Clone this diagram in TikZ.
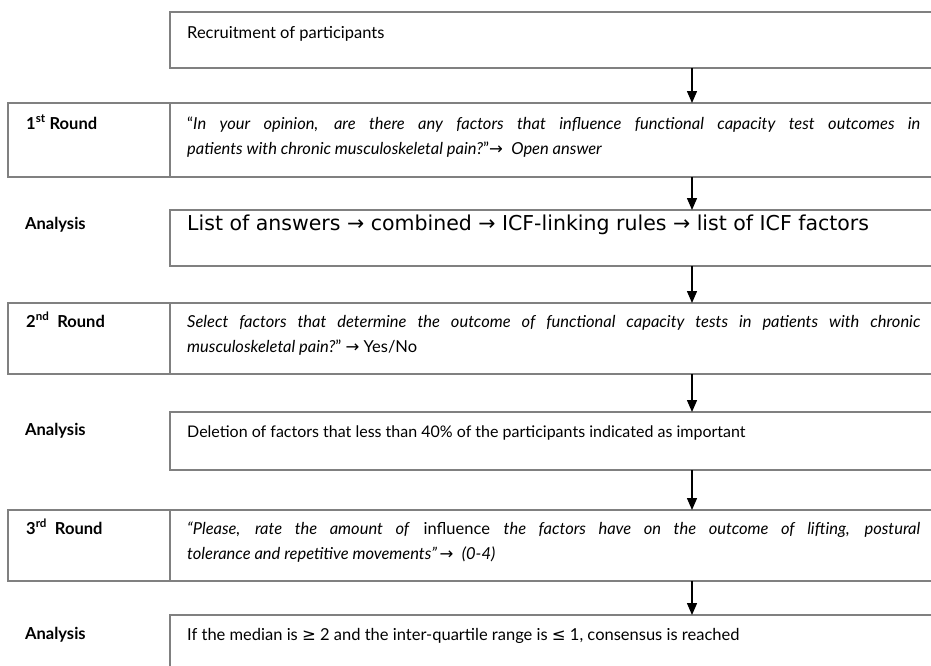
\documentclass[tikz,border=0pt]{standalone}
\usepackage{fontspec}
\setmainfont{Lato}
\newfontfamily\verd{DejaVu Sans}
\usetikzlibrary{arrows.meta}
\definecolor{boxgray}{RGB}{128,128,128}
\newcommand{\rarr}{{\verd\char"2192}}
\begin{document}
\begin{tikzpicture}[x=1pt,y=1pt,
  box/.style={draw=boxgray,line width=1.3pt,anchor=north west,inner sep=0pt,outer sep=0pt},
  lbl/.style={anchor=base west,inner sep=0pt,font=\fontsize{16.5}{24}\selectfont\bfseries},
  txt/.style={anchor=base west,inner sep=0pt,font=\fontsize{16.5}{24}\selectfont},
  para/.style={anchor=base west,inner sep=0pt,text width=733pt,align=justify,font=\fontsize{16.5}{25}\selectfont},
  flow/.style={-{Triangle[width=10pt,length=12pt]},line width=1.4pt,black}]
\clip (0,0) rectangle (931,-665);
\fill[white] (0,0) rectangle (931,-665);
\coordinate (ax) at (692,0);
% boxes
\node[box,minimum width=800pt,minimum height=56pt] (rec) at (170,-12) {};
\node[box,minimum width=162pt,minimum height=74pt] (r1l) at (8,-103) {};
\node[box,minimum width=800pt,minimum height=74pt] (r1c) at (170,-103) {};
\node[box,minimum width=800pt,minimum height=56pt] (a1) at (170,-210) {};
\node[box,minimum width=162pt,minimum height=71pt] (r2l) at (8,-303) {};
\node[box,minimum width=800pt,minimum height=71pt] (r2c) at (170,-303) {};
\node[box,minimum width=800pt,minimum height=58pt] (a2) at (170,-412) {};
\node[box,minimum width=162pt,minimum height=71pt] (r3l) at (8,-510) {};
\node[box,minimum width=800pt,minimum height=71pt] (r3c) at (170,-510) {};
\node[box,minimum width=800pt,minimum height=100pt] (a3) at (170,-615) {};
% texts
\node[txt] (rect) at (187,-38) {Recruitment of participants};
\node[lbl] (r1lt) at (26,-129) {1\textsuperscript{st} Round};
\node[para] (r1t) at (187,-129) {“\textit{In your opinion, are there any factors that influence functional capacity test outcomes in\linebreak patients with chronic musculoskeletal pain?}”\rarr\ \ \textit{Open answer}};
\node[lbl] (a1l) at (25,-229) {Analysis};
\node[txt,font=\verd\fontsize{20.5}{24}\selectfont] (a1t) at (187,-230) {List of answers → combined → ICF-linking rules → list of ICF factors};
\node[lbl] (r2lt) at (26,-327) {2\textsuperscript{nd}\ \ Round};
\node[para] (r2t) at (187,-327) {\textit{Select factors that determine the outcome of functional capacity tests in patients with chronic\linebreak musculoskeletal pain?}" \rarr\ Yes/No};
\node[lbl] (a2l) at (25,-435) {Analysis};
\node[txt,font=\fontsize{16}{24}\selectfont] (a2t) at (187,-437) {Deletion of factors that less than 40\% of the participants indicated as important};
\node[lbl] (r3lt) at (26,-534) {3\textsuperscript{rd}\ \ Round};
\node[para] (r3t) at (187,-534) {\textit{“Please, rate the amount of} influence \textit{the factors have on the outcome of lifting, postural\linebreak tolerance and repetitive movements”}\,\rarr\ \ \textit{(0-4)}};
\node[lbl] (a3l) at (25,-639) {Analysis};
\node[txt] (a3t) at (187,-640) {If the median is {\verd ≥} 2 and the inter-quartile range is {\verd ≤} 1, consensus is reached};
% arrows
\draw[flow] (rec.south -| ax) -- (r1c.north -| ax);
\draw[flow] (r1c.south -| ax) -- (a1.north -| ax);
\draw[flow] (a1.south -| ax) -- (r2c.north -| ax);
\draw[flow] (r2c.south -| ax) -- (a2.north -| ax);
\draw[flow] (a2.south -| ax) -- (r3c.north -| ax);
\draw[flow] (r3c.south -| ax) -- (a3.north -| ax);
\end{tikzpicture}
\end{document}
